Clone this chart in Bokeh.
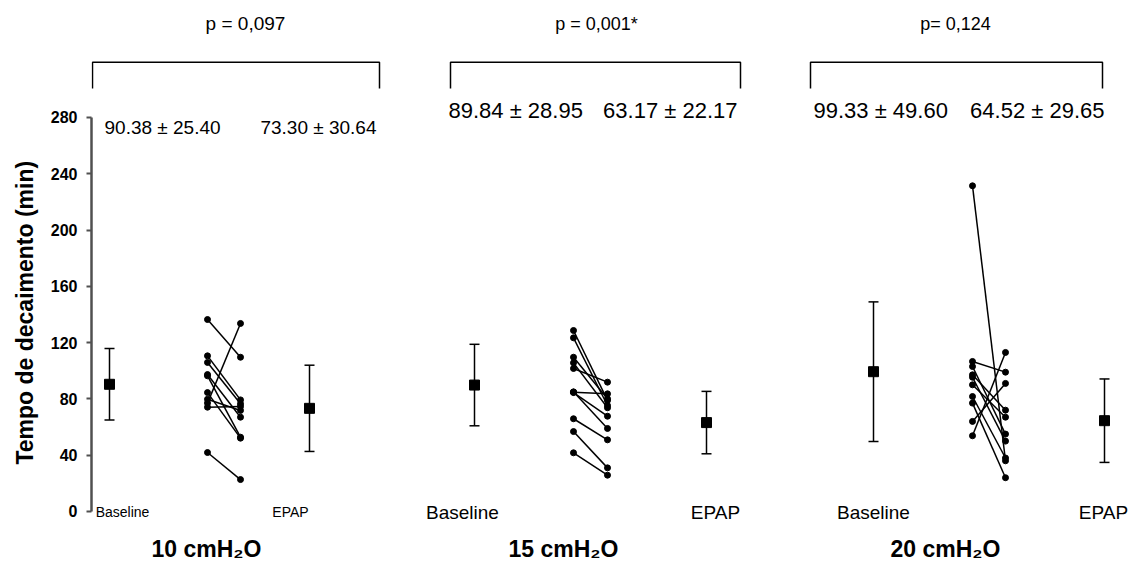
from bokeh.plotting import figure
from bokeh.models import Range1d, LinearAxis, FixedTicker
from bokeh.core.properties import value
from bokeh.embed import file_html
from bokeh.resources import INLINE

# ---------------- data ----------------
groups = ["10 cmH\u2082O", "15 cmH\u2082O", "20 cmH\u2082O"]
p_labels = ["p = 0,097", "p = 0,001*", "p= 0,124"]
cond_labels = ["Baseline", "EPAP"]
y_title = "Tempo de decaimento (min)"

mean_base = [90.38, 89.84, 99.33]
sd_base = [25.40, 28.95, 49.60]
mean_epap = [73.30, 63.17, 64.52]
sd_epap = [30.64, 22.17, 29.65]

base_10 = [136.4, 110.6, 105.9, 97.3, 96.4, 84.5, 79.7, 77.0, 74.1, 41.9]
epap_10 = [109.6, 79.3, 76.5, 67.0, 52.8, 52.1, 71.8, 133.6, 74.6, 22.7]
base_15 = [128.6, 123.4, 109.6, 105.6, 101.6, 85.0, 84.8, 84.5, 65.9, 56.8, 41.7]
epap_15 = [78.9, 75.3, 80.1, 73.7, 91.9, 59.0, 83.6, 67.7, 50.9, 31.0, 25.8]
base_20 = [231.4, 106.6, 103.0, 97.1, 95.4, 90.0, 81.7, 77.0, 64.0, 53.8]
epap_20 = [36.0, 99.0, 55.0, 72.0, 50.0, 67.0, 38.0, 24.0, 91.0, 113.0]

y_ticks = [0, 40, 80, 120, 160, 200, 240, 280]

# ---------------- layout (horizontal positions in frame units) ----------------
panel_x = [(109, 207, 240, 309), (474, 573, 607, 706), (873, 972, 1005, 1104)]
bracket_x = [(92, 379), (450, 740), (810, 1102)]
bracket_y = (300.5, 319.2)
p_text_x = [245, 596, 955]
p_text_size = ["19px", "18px", "18px"]
p_text_y = 346.7
left_text_x = [104, 448, 813]
right_text_x = [376, 737, 1104]
mean_text_y = [272.8, 285.0, 285.0]
mean_text_size = ["19px", "22px", "22px"]
cond_text_x = [(122, 290), (462, 715), (873, 1103)]
cond_text_size = ["14px", "19px", "19px"]
cond_text_y = -0.7
group_text_x = [206, 563, 945]
group_text_y = -26.5

FONT = "Liberation Sans"
NBSP = "\u00a0"
AXIS_COLOR = "#505050"

p = figure(width=1132, height=567, output_backend="svg", toolbar_location=None,
           x_range=Range1d(91, 1132), y_range=Range1d(-39.79, 363.06),
           x_axis_type=None, y_axis_type=None,
           min_border_left=91, min_border_right=0, min_border_top=0, min_border_bottom=0)
p.outline_line_color = None

# axis title is centred on the frame; pad it so it sits centred on the 0-280 span
ax = LinearAxis(bounds=(0, 280), ticker=FixedTicker(ticks=y_ticks),
                axis_label=y_title + NBSP * 9)
ax.axis_line_color = AXIS_COLOR
ax.axis_line_width = 2.5
ax.major_tick_line_color = AXIS_COLOR
ax.major_tick_line_width = 2
ax.major_tick_out = 5
ax.major_tick_in = 0
ax.major_label_standoff = 9
ax.major_label_text_font = FONT
ax.major_label_text_font_style = "bold"
ax.major_label_text_font_size = "16px"
ax.major_label_text_color = "black"
ax.axis_label_text_font = FONT
ax.axis_label_text_font_style = "bold"
ax.axis_label_text_font_size = "23px"
ax.axis_label_text_color = "black"
ax.axis_label_standoff = 10
p.add_layout(ax, "left")

indiv = [(base_10, epap_10), (base_15, epap_15), (base_20, epap_20)]

for i in range(3):
    mbx, ibx, iex, mex = panel_x[i]
    b, e = indiv[i]
    p.segment(x0=[ibx] * len(b), y0=b, x1=[iex] * len(e), y1=e,
              line_color="black", line_width=1.5)
    p.scatter(x=[ibx] * len(b), y=b, size=6, color="black")
    p.scatter(x=[iex] * len(e), y=e, size=6, color="black")
    for mx, m, s in [(mbx, mean_base[i], sd_base[i]), (mex, mean_epap[i], sd_epap[i])]:
        p.segment(x0=[mx], y0=[m - s], x1=[mx], y1=[m + s], line_color="black", line_width=1.5)
        p.segment(x0=[mx - 5, mx - 5], y0=[m - s, m + s], x1=[mx + 5, mx + 5], y1=[m - s, m + s],
                  line_color="black", line_width=1.5)
        p.scatter(x=[mx], y=[m], marker="square", size=10, color="black")
    bx0, bx1 = bracket_x[i]
    p.line(x=[bx0, bx0, bx1, bx1], y=[bracket_y[0], bracket_y[1], bracket_y[1], bracket_y[0]],
           line_color="black", line_width=1.5)
    p.text(x=[p_text_x[i]], y=[p_text_y], text=[p_labels[i]], text_font=value(FONT),
           text_font_size=p_text_size[i], text_align="center", text_baseline="middle",
           text_color="black")
    p.text(x=[left_text_x[i]], y=[mean_text_y[i]],
           text=[f"{mean_base[i]:.2f} \u00b1 {sd_base[i]:.2f}"], text_font=value(FONT),
           text_font_size=mean_text_size[i], text_align="left", text_baseline="middle",
           text_color="black")
    p.text(x=[right_text_x[i]], y=[mean_text_y[i]],
           text=[f"{mean_epap[i]:.2f} \u00b1 {sd_epap[i]:.2f}"], text_font=value(FONT),
           text_font_size=mean_text_size[i], text_align="right", text_baseline="middle",
           text_color="black")
    for cx, lab in zip(cond_text_x[i], cond_labels):
        p.text(x=[cx], y=[cond_text_y], text=[lab], text_font=value(FONT),
               text_font_size=cond_text_size[i], text_align="center", text_baseline="middle",
               text_color="black")
    p.text(x=[group_text_x[i]], y=[group_text_y], text=[groups[i]], text_font=value(FONT),
           text_font_size="23px", text_font_style="bold", text_align="center",
           text_baseline="middle", text_color="black")

open("out.html", "w").write(file_html(p, INLINE))
